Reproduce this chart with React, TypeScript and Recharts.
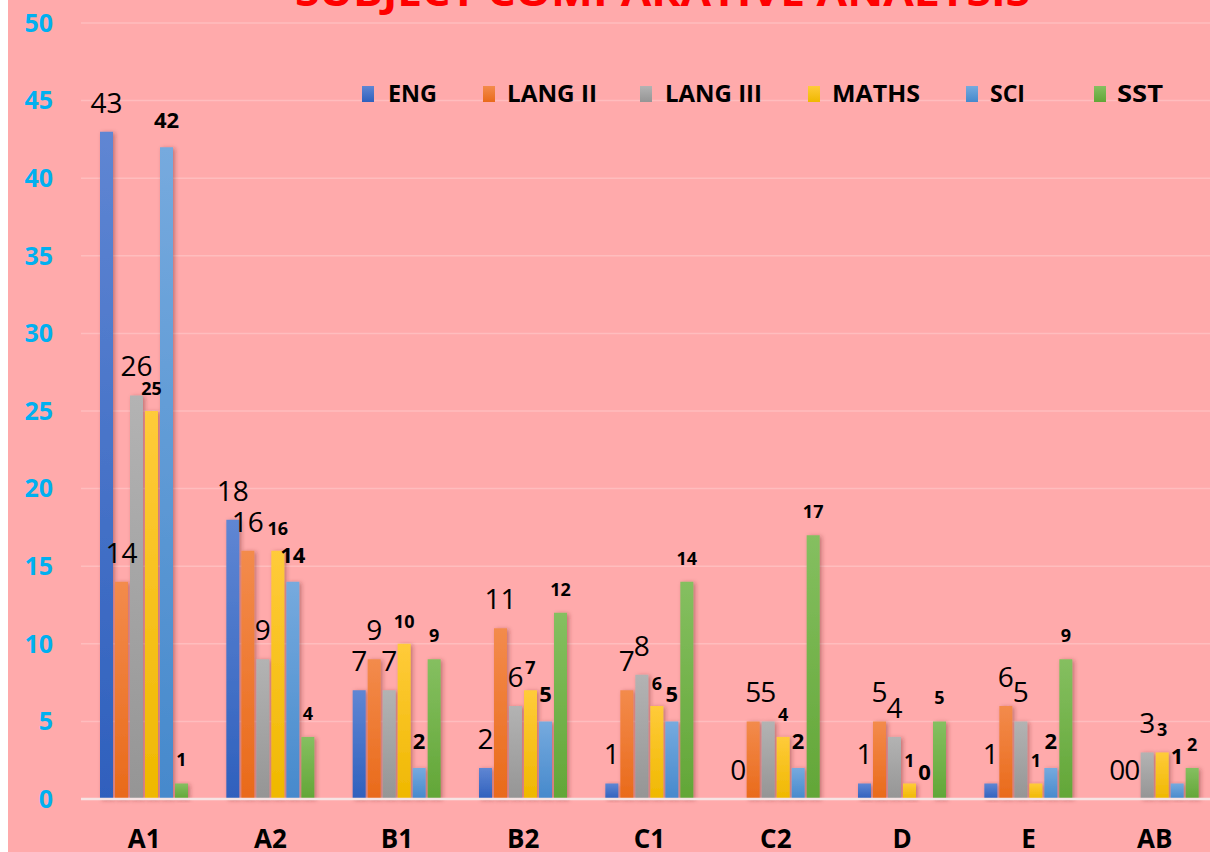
import React from 'react';
import { BarChart, Bar, XAxis, YAxis, CartesianGrid, LabelList } from 'recharts';

const categories = ['A1', 'A2', 'B1', 'B2', 'C1', 'C2', 'D', 'E', 'AB'];
const eng = [43, 18, 7, 2, 1, 0, 1, 1, 0];
const lang2 = [14, 16, 9, 11, 7, 5, 5, 6, 0];
const lang3 = [26, 9, 7, 6, 8, 5, 4, 5, 3];
const maths = [25, 16, 10, 7, 6, 4, 1, 1, 3];
const sci = [42, 14, 2, 5, 5, 2, 0, 2, 1];
const sst = [1, 4, 9, 12, 14, 17, 5, 9, 2];
const yTicks = [0, 5, 10, 15, 20, 25, 30, 35, 40, 45, 50];
const title = 'SUBJECT COMPARATIVE ANALYSIS';

const seriesNames = ['ENG', 'LANG II', 'LANG III', 'MATHS', 'SCI', 'SST'];
const seriesKeys = ['eng', 'lang2', 'lang3', 'maths', 'sci', 'sst'];

const data = categories.map((c, i) => ({
  cat: c,
  eng: eng[i],
  lang2: lang2[i],
  lang3: lang3[i],
  maths: maths[i],
  sci: sci[i],
  sst: sst[i],
}));

const FONT = "'Open Sans', sans-serif";
const BG = '#FFAAAB';

const gradients: Record<string, [string, string]> = {
  eng: ['#5F86D3', '#2F60BD'],
  lang2: ['#F38B4C', '#E96A1A'],
  lang3: ['#B3B3B3', '#959595'],
  maths: ['#FFCB3A', '#EFB800'],
  sci: ['#76AADE', '#4689CC'],
  sst: ['#85BF60', '#62A637'],
};

const labelStyle: Record<string, any> = {
  eng: { fontSize: 28, fontWeight: 400, offset: 19 },
  lang2: { fontSize: 28, fontWeight: 400, offset: 19 },
  lang3: { fontSize: 28, fontWeight: 400, offset: 19 },
  maths: { fontSize: 18, fontWeight: 700, offset: 16 },
  sci: { fontSize: 22, fontWeight: 700, offset: 19 },
  sst: { fontSize: 18, fontWeight: 700, offset: 17 },
};

// legend layout (x of marker, x of text, text width)
const legendLayout = [
  [354, 380, 49],
  [475, 499, 90],
  [632, 657, 97],
  [800, 824, 88],
  [958, 982, 35],
  [1086, 1109, 46],
];

export default function App() {
  return (
    <div
      style={{
        position: 'absolute',
        left: 8,
        top: 0,
        width: 1202,
        height: 852,
        overflow: 'hidden',
        background: BG,
      }}
    >
      <BarChart
        width={1220}
        height={852}
        data={data}
        margin={{ top: 23, right: 10, bottom: 0, left: 0 }}
        barSize={13}
        barGap={2}
        style={{ fontFamily: FONT }}
      >
        <defs>
          {seriesKeys.map((k) => (
            <linearGradient key={k} id={`grad-${k}`} x1="0" y1="0" x2="0" y2="1">
              <stop offset="0%" stopColor={gradients[k][0]} />
              <stop offset="100%" stopColor={gradients[k][1]} />
            </linearGradient>
          ))}
          <filter id="barShadow" x="-50%" y="-10%" width="200%" height="130%">
            <feDropShadow dx="2" dy="1" stdDeviation="2.2" floodColor="#6a2020" floodOpacity="0.4" />
          </filter>
        </defs>
        <CartesianGrid vertical={false} stroke="#FFBDBE" strokeWidth={1.5} />
        <XAxis
          dataKey="cat"
          height={53}
          tickSize={0}
          tickMargin={31}
          axisLine={{ stroke: '#F6E4E4', strokeWidth: 2.5 }}
          tickLine={false}
          tick={{ fill: '#000', fontSize: 26, fontWeight: 700, fontFamily: FONT }}
          interval={0}
        />
        <YAxis
          width={73}
          domain={[0, 50]}
          ticks={yTicks}
          tickSize={0}
          tickMargin={28}
          axisLine={false}
          tickLine={false}
          tick={{ fill: '#00B0F0', fontSize: 25, fontWeight: 700, fontFamily: FONT }}
        />
        {seriesKeys.map((k, i) => (
          <Bar
            key={k}
            dataKey={k}
            name={seriesNames[i]}
            fill={`url(#grad-${k})`}
            filter="url(#barShadow)"
            minPointSize={0.4}
            isAnimationActive={false}
          >
            <LabelList
              dataKey={k}
              position="top"
              offset={labelStyle[k].offset}
              fill="#000"
              fontSize={labelStyle[k].fontSize}
              fontWeight={labelStyle[k].fontWeight}
              fontFamily={FONT}
            />
          </Bar>
        ))}
        <text
          x={287}
          y={6}
          fill="#FF0000"
          fontSize={40}
          fontWeight={700}
          fontFamily={FONT}
          textLength={735}
          lengthAdjust="spacingAndGlyphs"
        >
          {title}
        </text>
        <g>
          {seriesKeys.map((k, i) => (
            <g key={k}>
              <rect
                x={legendLayout[i][0]}
                y={86}
                width={12}
                height={16}
                fill={`url(#grad-${k})`}
              />
              <text
                x={legendLayout[i][1]}
                y={102}
                fill="#000"
                fontSize={24}
                fontWeight={700}
                fontFamily={FONT}
                textLength={legendLayout[i][2]}
                lengthAdjust="spacingAndGlyphs"
              >
                {seriesNames[i]}
              </text>
            </g>
          ))}
        </g>
      </BarChart>
    </div>
  );
}
